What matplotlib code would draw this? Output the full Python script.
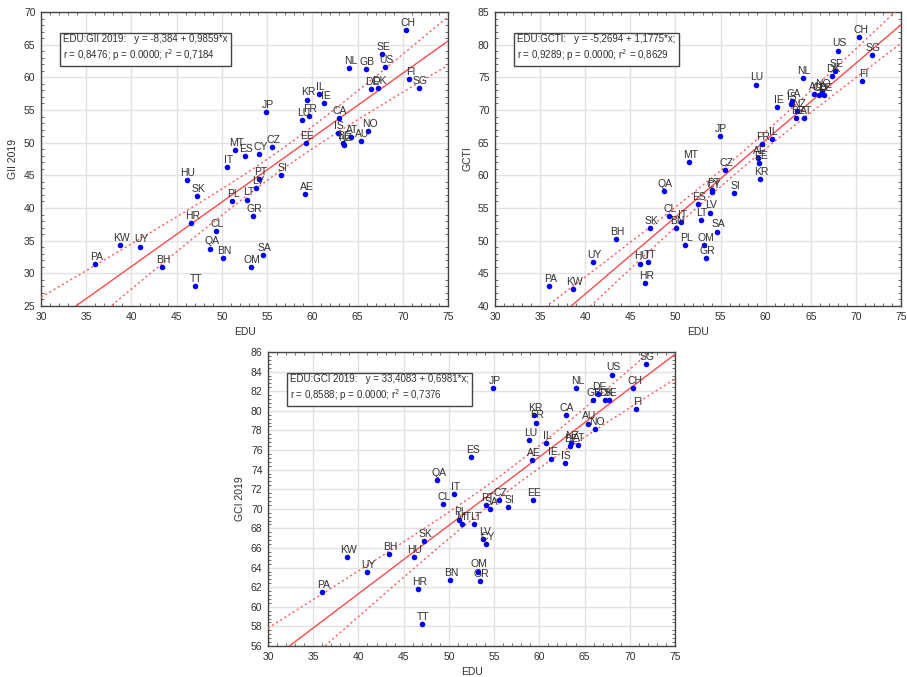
import numpy as np
import matplotlib
matplotlib.use("Agg")
import matplotlib.pyplot as plt
from matplotlib.ticker import MultipleLocator, AutoMinorLocator

plt.rcParams['font.family'] = ['Liberation Sans', 'DejaVu Sans']

codes = ["CH","SE","US","NL","GB","FI","SG","DE","DK","IL","KR","IE","JP","FR","LU","CA",
         "IS","NO","AT","BE","NZ","AU","EE","MT","CZ","CY","ES","IT","HU","PT","SI","LV",
         "AE","SK","PL","LT","GR","HR","CL","KW","UY","QA","BN","SA","PA","BH","OM","TT"]

edu = [70.4, 67.7, 68.0, 64.1, 65.9, 70.7, 71.8, 66.5, 67.3, 60.7, 59.4, 61.3, 54.9, 59.6, 58.9, 62.9,
       62.8, 66.2, 64.3, 63.4, 63.5, 65.4, 59.3, 51.5, 55.5, 54.1, 52.5, 50.6, 46.1, 54.1, 56.5, 53.8,
       59.2, 47.2, 51.1, 52.8, 53.4, 46.6, 49.3, 38.7, 40.9, 48.7, 50.1, 54.6, 36.0, 43.4, 53.2, 47.0]

gii = [67.2, 63.6, 61.6, 61.4, 61.3, 59.7, 58.4, 58.2, 58.4, 57.4, 56.6, 56.1, 54.7, 54.1, 53.5, 53.8,
       51.5, 51.8, 50.8, 50.0, 49.6, 50.3, 49.95, 48.9, 49.4, 48.3, 48.0, 46.2, 44.3, 44.5, 45.1, 43.0,
       42.1, 41.9, 41.1, 41.3, 38.8, 37.7, 36.5, 34.4, 34.1, 33.8, 32.3, 32.8, 31.4, 31.0, 30.9, 28.0]

gcti = [81.2, 75.9, 79.1, 74.9, 72.3, 74.4, 78.4, 72.3, 75.2, 65.6, 59.5, 70.4, 66.0, 64.8, 73.9, 71.4,
        70.9, 72.9, 68.8, 68.8, 69.9, 72.5, 61.9, 62.0, 60.8, 57.4, 55.6, 52.8, 46.5, 57.7, 57.3, 54.3,
        62.6, 51.9, 49.4, 53.2, 47.4, 43.5, 53.8, 42.6, 46.7, 57.6, 52.0, 51.4, 43.1, 50.3, 49.4, 46.7]

gci = [82.3, 81.1, 83.7, 82.3, 81.1, 80.2, 84.8, 81.75, 81.1, 76.7, 79.6, 75.1, 82.3, 78.8, 77.0, 79.6,
       74.7, 78.1, 76.5, 76.4, 76.7, 78.7, 70.9, 68.4, 70.9, 66.4, 75.3, 71.5, 65.1, 70.4, 70.2, 66.9,
       75.0, 66.7, 68.9, 68.4, 62.6, 61.8, 70.45, 65.1, 63.5, 72.9, 62.7, 70.0, 61.5, 65.4, 63.6, 58.2]

# regression coefficients stated in the chart (intercept, slope)
coef_gii = (-8.384, 0.9859)
coef_gcti = (-5.2694, 1.1775)
coef_gci = (33.4083, 0.6981)

box_gii = ["EDU:GII 2019:   y = -8,384 + 0,9859*x", "r = 0,8476; p = 0.0000; r$^2$ = 0,7184"]
box_gcti = ["EDU:GCTI:   y = -5,2694 + 1,1775*x;", "r = 0,9289; p = 0.0000; r$^2$ = 0,8629"]
box_gci = ["EDU:GCI 2019:   y = 33,4083 + 0,6981*x;", "r = 0,8588; p = 0.0000; r$^2$ = 0,7376"]

TXT = '#303030'
W, H = 907, 677
fig = plt.figure(figsize=(W / 100, H / 100), dpi=100)


def px_axes(l, t, r, b):
    return fig.add_axes([l / W, 1 - b / H, (r - l) / W, (b - t) / H])


def panel(ax, y, coef, ylim, ymaj, ylabel, boxtxt):
    x = np.asarray(edu)
    y = np.asarray(y)
    a, b = coef
    n = len(x)
    resid = y - (a + b * x)
    s = np.sqrt(np.sum(resid ** 2) / (n - 2))
    xm = x.mean()
    sxx = np.sum((x - xm) ** 2)
    t = 2.0129
    xs = np.linspace(30, 75, 200)
    yh = a + b * xs
    half = t * s * np.sqrt(1 / n + (xs - xm) ** 2 / sxx)
    ax.plot(xs, yh, color='#ff4a4a', lw=1.0, zorder=3, clip_on=True)
    ax.plot(xs, yh + half, color='#ff5a5a', lw=1.0, ls=(0, (1.5, 2.0)), zorder=3)
    ax.plot(xs, yh - half, color='#ff5a5a', lw=1.0, ls=(0, (1.5, 2.0)), zorder=3)
    ax.scatter(x, y, s=16, color='#0000ff', zorder=4, linewidths=0)
    for c, xi, yi in zip(codes, x, y):
        ax.annotate(c, (xi, yi), xytext=(1, 1.5), textcoords='offset points',
                    ha='center', va='bottom', fontsize=7.5, color=TXT, zorder=5)
    ax.set_xlim(30, 75)
    ax.set_ylim(*ylim)
    ax.xaxis.set_major_locator(MultipleLocator(5))
    ax.yaxis.set_major_locator(MultipleLocator(ymaj))
    ax.xaxis.set_minor_locator(AutoMinorLocator(5))
    ax.yaxis.set_minor_locator(AutoMinorLocator(5))
    ax.grid(True, which='major', color='#e2e2e2', lw=1.0, zorder=0)
    ax.set_axisbelow(True)
    ax.tick_params(which='both', direction='in', top=True, right=True, colors='#555555',
                   labelcolor=TXT, labelsize=7.5)
    ax.tick_params(which='major', length=0, pad=4)
    ax.tick_params(which='minor', length=2.5, width=0.6)
    for sp in ax.spines.values():
        sp.set_color('#444444')
        sp.set_linewidth(1.0)
    ax.set_xlabel('EDU', fontsize=7.5, color=TXT, labelpad=4)
    ax.set_ylabel(ylabel, fontsize=7.5, color=TXT, labelpad=4)
    ax.text(0.055, 0.925, boxtxt[0] + "\n" + boxtxt[1], transform=ax.transAxes,
            ha='left', va='top', fontsize=7, color=TXT, linespacing=1.25, zorder=6,
            bbox=dict(boxstyle='square,pad=0.3', fc='white', ec='#444444', lw=1.0))


ax1 = px_axes(41, 12, 448, 306)
panel(ax1, gii, coef_gii, (25, 70), 5, 'GII 2019', box_gii)

ax2 = px_axes(495, 12, 901, 306)
panel(ax2, gcti, coef_gcti, (40, 85), 5, 'GCTI', box_gcti)

ax3 = px_axes(268, 352, 675, 646)
panel(ax3, gci, coef_gci, (56, 86), 2, 'GCI 2019', box_gci)

fig.savefig('out.png', dpi=100)
